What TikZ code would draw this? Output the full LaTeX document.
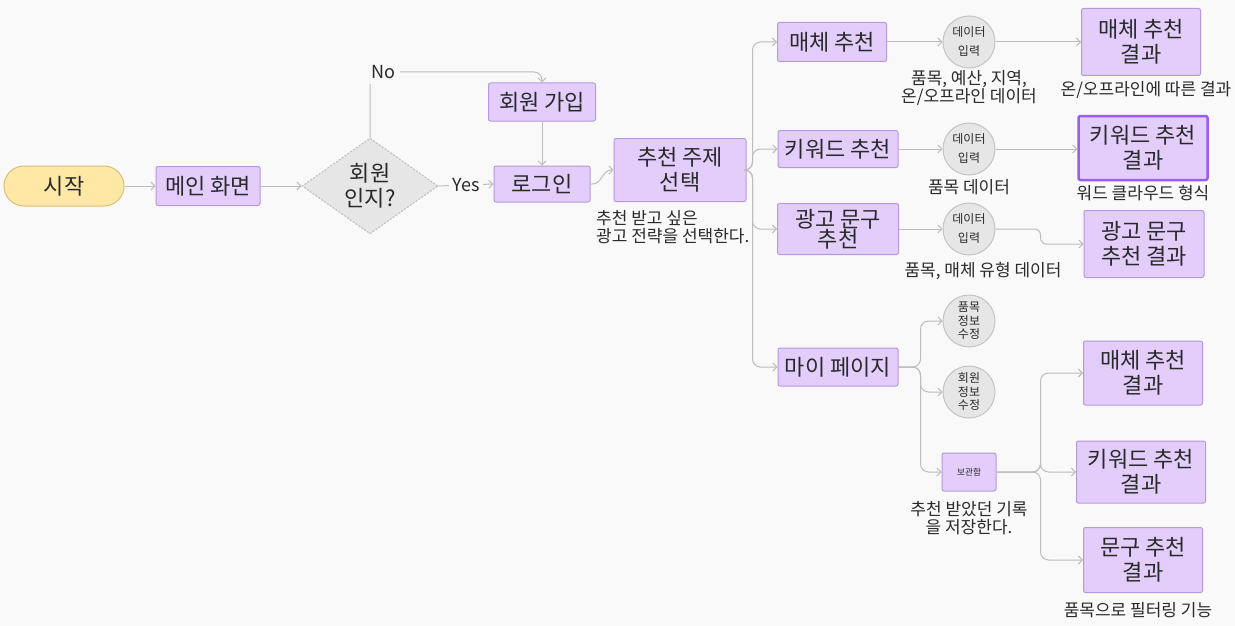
\documentclass[tikz,border=0pt]{standalone}
\usepackage{fontspec}
\setmainfont{Noto Sans CJK KR}
\usetikzlibrary{arrows.meta,shapes.geometric,calc}
\definecolor{bg}{HTML}{F9F9F9}
\definecolor{pfill}{HTML}{E3CDFB}
\definecolor{pline}{HTML}{B49ADB}
\definecolor{yfill}{HTML}{FFE8A6}
\definecolor{yline}{HTML}{D9BF78}
\definecolor{gfill}{HTML}{E6E6E6}
\definecolor{gline}{HTML}{C4C4C4}
\definecolor{conn}{HTML}{BDBDBD}
\definecolor{txt}{HTML}{2A2A2A}
\definecolor{hl}{HTML}{9B5CF2}
\tikzset{
  big/.style={font=\fontsize{22}{25}\selectfont},
  pbox/.style={draw=pline, fill=pfill, line width=1pt, rounded corners=2pt, text=txt, align=center, inner sep=0pt, big},
  gcirc/.style={circle, draw=gline, fill=gfill, line width=1pt, minimum size=52pt, inner sep=0pt, text=txt, align=center},
  lbl/.style={text=txt, align=center, inner sep=0pt, font=\fontsize{17}{17.5}\selectfont},
  cn/.style={draw=conn, line width=1pt, -{Straight Barb[length=4pt,width=8pt,line width=1pt]}},
  cnp/.style={draw=conn, line width=1pt}
}
\begin{document}
\begin{tikzpicture}[x=1pt,y=-1pt]
\fill[bg] (0,0) rectangle (1235,626);
\useasboundingbox (0,0) rectangle (1235,626);

% nodes
\node[draw=yline, fill=yfill, line width=1pt, rounded corners=20pt, minimum width=120pt, minimum height=40pt, text=txt, big, inner sep=0pt] (start) at (64,186) {시작};
\node[pbox, minimum width=104pt, minimum height=39pt] (main) at (208,186) {메인 화면};
\node[diamond, draw=conn, dash pattern=on 2pt off 1.5pt, fill=gfill, line width=1pt, minimum width=136pt, minimum height=92pt, inner sep=0pt, text=txt, align=center, big] (dec) at (370,186) {회원\\인지?};
\node[pbox, minimum width=107pt, minimum height=38pt] (join) at (542,102) {회원 가입};
\node[pbox, minimum width=96pt, minimum height=36pt] (login) at (542,184) {로그인};
\node[pbox, minimum width=132pt, minimum height=63pt] (topic) at (680,170) {추천 주제\\선택};
\node[lbl, align=left, anchor=west] (ann) at (596,227) {추천 받고 싶은\\광고 전략을 선택한다.};

\node[pbox, minimum width=109pt, minimum height=39pt] (med) at (832,42) {매체 추천};
\node[pbox, minimum width=120pt, minimum height=37pt] (kw) at (838,149) {키워드 추천};
\node[pbox, minimum width=121pt, minimum height=51pt, font=\fontsize{22}{20}\selectfont] (ad) at (838,229) {광고 문구\\추천};
\node[pbox, minimum width=120pt, minimum height=38pt] (my) at (838,367) {마이 페이지};

\node[gcirc, font=\fontsize{12}{19}\selectfont] (c1) at (969,42) {데이터\\입력};
\node[gcirc, font=\fontsize{12}{19}\selectfont] (c2) at (969,149) {데이터\\입력};
\node[gcirc, font=\fontsize{12}{19}\selectfont] (c3) at (969,229) {데이터\\입력};
\node[gcirc, font=\fontsize{12}{13.5}\selectfont] (c4) at (969,321) {품목\\정보\\수정};
\node[gcirc, font=\fontsize{12}{13.5}\selectfont] (c5) at (969,392) {회원\\정보\\수정};
\node[pbox, minimum width=54pt, minimum height=38pt, font=\fontsize{8.7}{10}\selectfont] (store) at (969,472) {보관함};

\node[pbox, minimum width=119pt, minimum height=67pt] (r1) at (1141,42) {매체 추천\\결과};
\node[pbox, draw=hl, line width=2.5pt, minimum width=129pt, minimum height=64pt] (r2) at (1143,148) {키워드 추천\\결과};
\node[pbox, minimum width=120pt, minimum height=67pt] (r3) at (1144,244) {광고 문구\\추천 결과};
\node[pbox, minimum width=119pt, minimum height=64pt] (r4) at (1143,373) {매체 추천\\결과};
\node[pbox, minimum width=129pt, minimum height=62pt] (r5) at (1141,472) {키워드 추천\\결과};
\node[pbox, minimum width=119pt, minimum height=65pt] (r6) at (1143,560) {문구 추천\\결과};

\node[lbl] (l1) at (969,88) {품목, 예산, 지역,\\온/오프라인 데이터};
\node[lbl] (l2) at (969,187) {품목 데이터};
\node[lbl] (l3) at (983,271) {품목, 매체 유형 데이터};
\node[lbl] (l4) at (1146,90) {온/오프라인에 따른 결과};
\node[lbl] (l5) at (1143,193) {워드 클라우드 형식};
\node[lbl] (l6) at (969,518) {추천 받았던 기록\\을 저장한다.};
\node[lbl] (l7) at (1138,610) {품목으로 필터링 기능};

% connectors
\draw[cn] (start.east) -- (main.west);
\draw[cn] (main.east) -- (dec.west);
\draw[cn] (dec.east) -- node[fill=bg, inner xsep=3pt, inner ysep=2pt, text=txt, font=\fontsize{18}{18}\selectfont] {Yes} (login.west);
\draw[cn, rounded corners=8pt] (dec.north) |- (join.north |- 0,72) -- (join.north);
\node[fill=bg, anchor=west, inner xsep=5pt, inner ysep=5pt, text=txt, font=\fontsize{18}{18}\selectfont] (no) at (366,72) {No};
\draw[cn] (join.south) -- (login.north);
\draw[cn] (login.east) -- ++(2,0) to[out=0,in=180] ($(topic.west)+(-2,0)$) -- (topic.west);

\draw[cn, rounded corners=8pt] (topic.east) -- ++(6,0) |- (med.west);
\draw[cn, rounded corners=8pt] (topic.east) -- ++(6,0) |- (kw.west);
\draw[cn, rounded corners=8pt] (topic.east) -- ++(6,0) |- (ad.west);
\draw[cn, rounded corners=8pt] (topic.east) -- ++(6,0) |- (my.west);

\draw[cn] (med.east) -- (c1.west);
\draw[cn] (kw.east) -- (c2.west);
\draw[cn] (ad.east) -- (c3.west);
\draw[cn] (c1.east) -- (r1.west);
\draw[cn] (c2.east) -- (c2.east -| r2.west);
\draw[cn, rounded corners=6pt] (c3.east) -- ++(45,0) |- (r3.west);

\draw[cn, rounded corners=8pt] (my.east) -- ++(22,0) |- (c4.west);
\draw[cn, rounded corners=8pt] (my.east) -- ++(22,0) |- (c5.west);
\draw[cn, rounded corners=8pt] (my.east) -- ++(22,0) |- (store.west);

\draw[cn, rounded corners=8pt] (store.east) -- ++(44,0) |- (r4.west);
\draw[cn, rounded corners=8pt] (store.east) -- ++(44,0) |- (r5.west);
\draw[cn, rounded corners=8pt] (store.east) -- ++(44,0) |- (r6.west);
\end{tikzpicture}
\end{document}
